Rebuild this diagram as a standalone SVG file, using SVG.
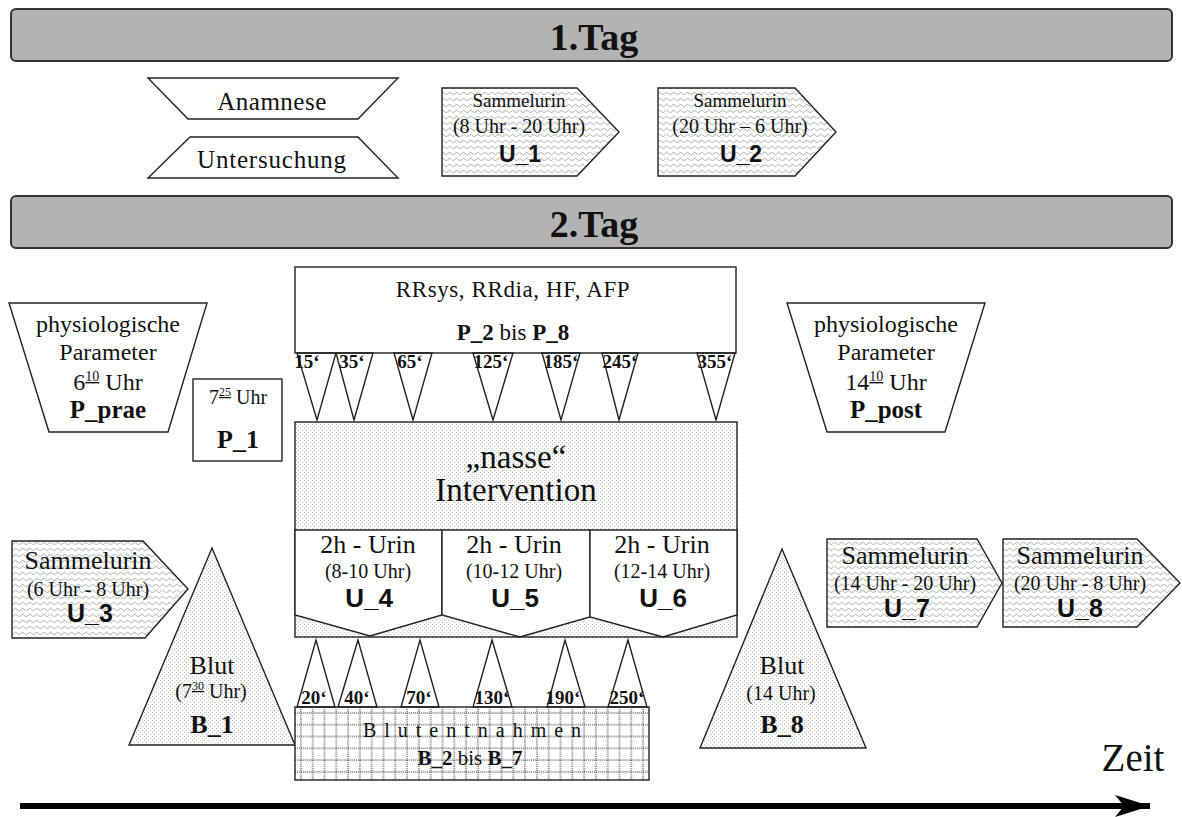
<svg xmlns="http://www.w3.org/2000/svg" width="1182" height="817" viewBox="0 0 1182 817">
<style>
text{font-family:"Liberation Serif","Times New Roman",serif;fill:#111;text-anchor:middle}
.b{font-weight:bold}
.u{font-family:"Liberation Sans",Arial,sans-serif;font-weight:bold}
.ln{stroke:#222;stroke-width:1.4;fill:none}
.band{fill:#b3b3b3;stroke:#333;stroke-width:2}
.wh{fill:#fff;stroke:#222;stroke-width:1.4}
.wave{fill:url(#wave);stroke:#222;stroke-width:1.4}
.dot{fill:url(#dots);stroke:#222;stroke-width:1.4}
.tl{font-weight:bold;font-size:19px}
</style>
<defs>
<pattern id="wave" patternUnits="userSpaceOnUse" width="7" height="6">
<rect width="7" height="6" fill="#fff"/>
<path d="M0 3.5 Q1.75 1 3.5 3.5 T7 3.5" fill="none" stroke="#9a9a9a" stroke-width="0.8"/>
</pattern>
<pattern id="dots" patternUnits="userSpaceOnUse" width="4" height="4">
<rect width="4" height="4" fill="#fcfcfc"/>
<rect x="0" y="0" width="1" height="1" fill="#bdbdbd"/>
<rect x="2" y="2" width="1" height="1" fill="#bdbdbd"/>
</pattern>
<pattern id="grid" patternUnits="userSpaceOnUse" x="295" y="707" width="11.8" height="11.8">
<rect width="11.8" height="11.8" fill="#fff"/>
<path d="M5.9 0V11.8M0 5.9H11.8" stroke="#222" stroke-width="1" stroke-dasharray="1 1"/>
</pattern>
<marker id="arr" markerUnits="userSpaceOnUse" markerWidth="40" markerHeight="26" refX="36" refY="11" orient="auto">
<path d="M36 11 L1 0 L10 11 L1 22 Z" fill="#000"/>
</marker>
</defs>

<g id="tag1">
<rect class="band" x="11" y="9" width="1161" height="52" rx="5"/>
<text class="b" x="594" y="50" font-size="38">1.Tag</text>
</g>
<g id="anamnese">
<polygon class="wh" points="148,78 398,78 358,119 188,119"/>
<text x="272" y="110" font-size="25" letter-spacing="0.5">Anamnese</text>
</g>
<g id="untersuchung">
<polygon class="wh" points="190,137 358,137 398,178 148,178"/>
<text x="272" y="168" font-size="25" letter-spacing="0.8">Untersuchung</text>
</g>
<g id="U_1">
<polygon class="wave" points="442,88 577,88 619,132 577,176 442,176"/>
<text x="519" y="107" font-size="19">Sammelurin</text>
<text x="519" y="133" font-size="20">(8 Uhr - 20 Uhr)</text>
<text class="u" x="520" y="162" font-size="23">U_1</text>
</g>
<g id="U_2">
<polygon class="wave" points="658,88 795,88 836,132 795,176 658,176"/>
<text x="740" y="107" font-size="19">Sammelurin</text>
<text x="740" y="133" font-size="20">(20 Uhr – 6 Uhr)</text>
<text class="u" x="741" y="162" font-size="23">U_2</text>
</g>

<g id="tag2">
<rect class="band" x="11" y="196" width="1161" height="52" rx="5"/>
<text class="b" x="594" y="237" font-size="38">2.Tag</text>
</g>

<g id="P_prae">
<polygon class="wh" points="9,303 207,303 168,432 49,432"/>
<text x="108" y="332" font-size="24">physiologische</text>
<text x="108" y="360" font-size="24">Parameter</text>
<text x="108" y="390" font-size="24">6<tspan font-size="14" dy="-9" text-decoration="underline">10</tspan><tspan dy="9"> Uhr</tspan></text>
<text class="b" x="108" y="418" font-size="25">P_prae</text>
</g>
<g id="P_1">
<rect class="wh" x="193" y="379" width="89" height="82"/>
<text x="238" y="404" font-size="20">7<tspan font-size="12" dy="-8" text-decoration="underline">25</tspan><tspan dy="8"> Uhr</tspan></text>
<text class="b" x="238" y="448" font-size="26">P_1</text>
</g>
<g id="P_2-8">
<rect class="wh" x="295" y="267" width="441" height="86"/>
<text x="513" y="297" font-size="23" letter-spacing="0.6">RRsys, RRdia, HF, AFP</text>
<text x="513" y="340" font-size="23"><tspan class="b">P_2</tspan> bis <tspan class="b">P_8</tspan></text>
</g>
<g id="P_post">
<polygon class="wh" points="787,303 985,303 945,432 827,432"/>
<text x="886" y="332" font-size="24">physiologische</text>
<text x="886" y="360" font-size="24">Parameter</text>
<text x="886" y="390" font-size="24">14<tspan font-size="14" dy="-9" text-decoration="underline">10</tspan><tspan dy="9"> Uhr</tspan></text>
<text class="b" x="886" y="418" font-size="25">P_post</text>
</g>

<g id="intervention">
<rect class="dot" x="295" y="422" width="442" height="215"/>
<text x="516" y="468" font-size="33">„nasse“</text>
<text x="516" y="501" font-size="33">Intervention</text>
</g>
<g id="U_4">
<polygon class="wh" points="295,530 442,530 442,615 370,636 295,615"/>
<text x="368" y="553" font-size="26">2h - Urin</text>
<text x="368" y="578" font-size="20">(8-10 Uhr)</text>
<text class="u" x="369" y="607" font-size="26">U_4</text>
</g>
<g id="U_5">
<polygon class="wh" points="442,530 590,530 590,617 520,637 442,615"/>
<text x="514" y="553" font-size="26">2h - Urin</text>
<text x="514" y="578" font-size="20">(10-12 Uhr)</text>
<text class="u" x="515" y="607" font-size="26">U_5</text>
</g>
<g id="U_6">
<polygon class="wh" points="590,530 737,530 737,615 663,637 590,617"/>
<text x="662" y="553" font-size="26">2h - Urin</text>
<text x="662" y="578" font-size="20">(12-14 Uhr)</text>
<text class="u" x="663" y="607" font-size="26">U_6</text>
</g>

<g id="U_3">
<polygon class="wave" points="12,541 143,541 188,589 145,638 12,638"/>
<text x="88" y="569" font-size="26">Sammelurin</text>
<text x="88" y="596" font-size="20">(6 Uhr - 8 Uhr)</text>
<text class="u" x="90" y="622" font-size="25">U_3</text>
</g>
<g id="B_1">
<polygon class="dot" points="212,548 295,745 129,745"/>
<text x="212" y="674" font-size="26">Blut</text>
<text x="211" y="698" font-size="20">(7<tspan font-size="12" dy="-8" text-decoration="underline">30</tspan><tspan dy="8"> Uhr)</tspan></text>
<text class="b" x="212" y="733" font-size="26">B_1</text>
</g>
<g id="B_2-7">
<rect x="295" y="707" width="354" height="73" fill="url(#grid)" stroke="#222" stroke-width="1.4"/>
<text x="476" y="737" font-size="20" letter-spacing="8">Blutentnahmen</text>
<text x="470" y="765" font-size="21"><tspan class="b">B_2</tspan> bis <tspan class="b">B_7</tspan></text>
</g>
<g id="B_8">
<polygon class="dot" points="782,549 866,748 700,748"/>
<text x="782" y="674" font-size="26">Blut</text>
<text x="781" y="700" font-size="20">(14 Uhr)</text>
<text class="b" x="782" y="733" font-size="26">B_8</text>
</g>
<g id="U_7">
<polygon class="wave" points="827,539 977,539 1002,583 977,627 827,627"/>
<text x="905" y="564" font-size="26">Sammelurin</text>
<text x="905" y="590" font-size="20">(14 Uhr - 20 Uhr)</text>
<text class="u" x="907" y="617" font-size="25">U_7</text>
</g>
<g id="U_8">
<polygon class="wave" points="1003,539 1137,539 1180,583 1137,627 1003,627"/>
<text x="1080" y="564" font-size="26">Sammelurin</text>
<text x="1080" y="590" font-size="20">(20 Uhr - 8 Uhr)</text>
<text class="u" x="1080" y="617" font-size="25">U_8</text>
</g>
<g id="zeit">
<text x="1133" y="771" font-size="39">Zeit</text>
</g>

<g id="connectors">
<polygon class="ln" points="297,353 336,353 317,420"/>
<polygon class="ln" points="336,353 373,353 354,420"/>
<polygon class="ln" points="394,353 432,353 413,420"/>
<polygon class="ln" points="473,353 513,353 493,420"/>
<polygon class="ln" points="542,353 580,353 561,420"/>
<polygon class="ln" points="602,353 638,353 619,420"/>
<polygon class="ln" points="697,353 735,353 716,420"/>
<text class="tl" x="307" y="368">15‘</text>
<text class="tl" x="352" y="368">35‘</text>
<text class="tl" x="410" y="368">65‘</text>
<text class="tl" x="491" y="368">125‘</text>
<text class="tl" x="561" y="368">185‘</text>
<text class="tl" x="620" y="368">245‘</text>
<text class="tl" x="715" y="368">355‘</text>
<polygon class="ln" points="297,707 335,707 316,640"/>
<polygon class="ln" points="338,707 377,707 358,640"/>
<polygon class="ln" points="401,707 439,707 420,640"/>
<polygon class="ln" points="473,707 512,707 492,640"/>
<polygon class="ln" points="547,707 585,707 565,640"/>
<polygon class="ln" points="608,707 647,707 628,640"/>
<text class="tl" x="314" y="704">20‘</text>
<text class="tl" x="357" y="704">40‘</text>
<text class="tl" x="419" y="704">70‘</text>
<text class="tl" x="492" y="704">130‘</text>
<text class="tl" x="563" y="704">190‘</text>
<text class="tl" x="627" y="704">250‘</text>
<line x1="20" y1="806" x2="1150" y2="806" stroke="#000" stroke-width="6" marker-end="url(#arr)"/>
</g>
</svg>
